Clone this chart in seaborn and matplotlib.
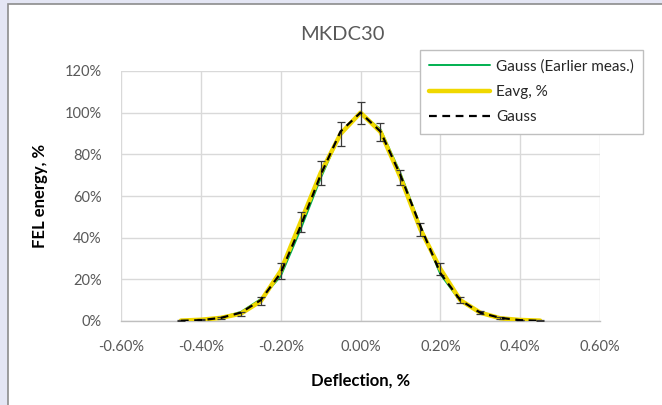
import numpy as np
import pandas as pd
import matplotlib
matplotlib.use("Agg")
import matplotlib.pyplot as plt
import seaborn as sns
from matplotlib.patches import Rectangle
from matplotlib.ticker import FuncFormatter

# deflection in %
deflection = [-0.45, -0.40, -0.35, -0.30, -0.25, -0.20, -0.15, -0.10, -0.05, 0.00,
              0.05, 0.10, 0.15, 0.20, 0.25, 0.30, 0.35, 0.40, 0.45]
# measured average FEL energy, %
eavg = [0.2, 0.6, 1.5, 3.5, 9.5, 24.0, 47.5, 71.0, 89.8, 100.0,
        90.8, 69.0, 44.0, 25.0, 10.0, 4.0, 1.3, 0.5, 0.2]
eavg_err = [0.1, 0.2, 0.5, 1.0, 2.0, 4.0, 5.0, 5.8, 5.7, 5.3,
            4.2, 3.5, 3.2, 2.7, 1.5, 0.8, 0.4, 0.2, 0.1]
# gauss fit
gauss = [0.1, 0.4, 1.5, 4.0, 10.0, 23.0, 45.5, 70.0, 91.0, 100.0,
         91.0, 70.0, 45.5, 23.0, 10.0, 4.0, 1.5, 0.4, 0.1]
# gauss fit of earlier measurement
gauss_old = [0.1, 0.4, 1.6, 4.3, 10.5, 21.5, 44.0, 68.5, 90.0, 100.0,
             92.0, 71.0, 45.5, 22.5, 9.5, 3.8, 1.3, 0.4, 0.1]

x_ticks = [-0.6, -0.4, -0.2, 0.0, 0.2, 0.4, 0.6]
y_ticks = [0, 20, 40, 60, 80, 100, 120]

sns.set_style("white")
plt.rcParams["font.family"] = ["Lato", "DejaVu Sans"]

df = pd.DataFrame({"x": deflection, "eavg": eavg, "err": eavg_err,
                   "gauss": gauss, "gauss_old": gauss_old})

fig = plt.figure(figsize=(6.62, 4.05), dpi=100)
fig.patch.set_facecolor("#E4E6F4")
fig.patches.append(Rectangle((8 / 662, -0.01), 1.0, 1 - 4 / 405 + 0.01,
                             transform=fig.transFigure, facecolor="white",
                             edgecolor="#8C8C8C", linewidth=1.2, zorder=-1))
ax = fig.add_axes([121 / 662, 1 - 321 / 405, (600 - 121) / 662, (321 - 71) / 405])
ax.set_facecolor("white")

sns.lineplot(data=df, x="x", y="gauss_old", ax=ax, color="#00B050", linewidth=1.4,
             label="Gauss (Earlier meas.)", zorder=2)
sns.lineplot(data=df, x="x", y="eavg", ax=ax, color="#F0D800", linewidth=3.2,
             label="Eavg, %", zorder=3)
ax.errorbar(df["x"], df["eavg"], yerr=df["err"], fmt="none", ecolor="#3A3A3A",
            elinewidth=0.9, capsize=3, capthick=0.9, zorder=4)
sns.lineplot(data=df, x="x", y="gauss", ax=ax, color="black", linewidth=1.6,
             linestyle=(0, (3.5, 2.5)), label="Gauss", zorder=5)

ax.set_xlim(-0.6, 0.6)
ax.set_ylim(0, 120)
ax.set_xticks(x_ticks)
ax.set_yticks(y_ticks)
ax.xaxis.set_major_formatter(FuncFormatter(lambda v, p: f"{v:.2f}%"))
ax.yaxis.set_major_formatter(FuncFormatter(lambda v, p: f"{v:.0f}%"))
ax.tick_params(axis="both", length=0, labelsize=10.5, labelcolor="#595959")
ax.tick_params(axis="x", pad=14)
ax.tick_params(axis="y", pad=14)
ax.grid(True, color="#D9D9D9", linewidth=1.0)
for s in ["top", "right", "left"]:
    ax.spines[s].set_visible(False)
ax.spines["bottom"].set_color("#BFBFBF")
ax.spines["bottom"].set_linewidth(1.0)

ax.set_xlabel("Deflection, %", fontsize=12, fontweight="bold", color="black", labelpad=13)
ax.set_ylabel("FEL energy, %", fontsize=12, fontweight="bold", color="black", labelpad=12)
fig.text(342 / 662, 1 - 35 / 405, "MKDC30", ha="center", va="center",
         fontsize=14.5, color="#595959")

ax.legend(loc="upper left", bbox_to_anchor=(420 / 662, 1 - 50 / 405),
          bbox_transform=fig.transFigure, frameon=True, fancybox=False,
          edgecolor="#BFBFBF", fontsize=11, handlelength=4.0, labelspacing=0.75,
          borderpad=0.6, handletextpad=0.4, borderaxespad=0, framealpha=1)

fig.savefig("out.png", dpi=100, facecolor=fig.get_facecolor())
